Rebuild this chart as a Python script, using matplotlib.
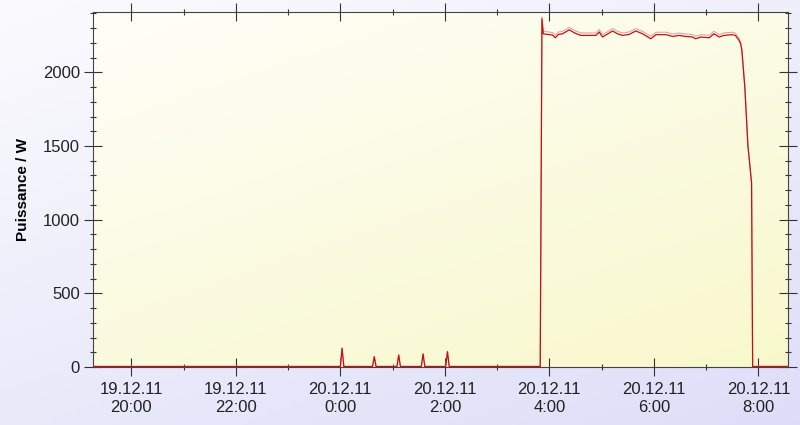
import numpy as np
import pandas as pd
import matplotlib
matplotlib.use("Agg")
import matplotlib.pyplot as plt
import matplotlib.dates as mdates
from matplotlib.ticker import MultipleLocator, FuncFormatter

plt.rcParams['font.family'] = ['Liberation Sans', 'DejaVu Sans']

# power readings (W), dark = main trace, light = upper trace
times = ["2011-12-19 19:16", "2011-12-19 23:58", "2011-12-20 00:00", "2011-12-20 00:02",
         "2011-12-20 00:04", "2011-12-20 00:37", "2011-12-20 00:39", "2011-12-20 00:41",
         "2011-12-20 01:05", "2011-12-20 01:07", "2011-12-20 01:09", "2011-12-20 01:33",
         "2011-12-20 01:35", "2011-12-20 01:37", "2011-12-20 02:01", "2011-12-20 02:03",
         "2011-12-20 02:05", "2011-12-20 03:49:30", "2011-12-20 03:51:30", "2011-12-20 03:53",
         "2011-12-20 04:03:40", "2011-12-20 04:06:45", "2011-12-20 04:10:30", "2011-12-20 04:15:10",
         "2011-12-20 04:22:50", "2011-12-20 04:28:30", "2011-12-20 04:36:15", "2011-12-20 04:53:30",
         "2011-12-20 04:57:15", "2011-12-20 05:01", "2011-12-20 05:08:40", "2011-12-20 05:12:30",
         "2011-12-20 05:18:15", "2011-12-20 05:24", "2011-12-20 05:31:40", "2011-12-20 05:39:20",
         "2011-12-20 05:47", "2011-12-20 05:56:30", "2011-12-20 06:02:25", "2011-12-20 06:13:50",
         "2011-12-20 06:21:35", "2011-12-20 06:29", "2011-12-20 06:36:35", "2011-12-20 06:44:25",
         "2011-12-20 06:48", "2011-12-20 06:54", "2011-12-20 07:03:35", "2011-12-20 07:09",
         "2011-12-20 07:15", "2011-12-20 07:20:25", "2011-12-20 07:30", "2011-12-20 07:33:35",
         "2011-12-20 07:37:50", "2011-12-20 07:39:35", "2011-12-20 07:41", "2011-12-20 07:44:25",
         "2011-12-20 07:48", "2011-12-20 07:52:10", "2011-12-20 07:53:25", "2011-12-20 08:34"]
power = [3, 3, 3, 127,
         3, 3, 70, 3,
         3, 81, 3, 3,
         88, 3, 3, 104,
         3, 3, 2364, 2262,
         2253, 2235, 2258, 2262,
         2289, 2269, 2251, 2251,
         2274, 2240, 2267, 2281,
         2262, 2251, 2258, 2281,
         2262, 2228, 2256, 2256,
         2244, 2251, 2244, 2240,
         2228, 2240, 2235, 2262,
         2240, 2251, 2256, 2251,
         2217, 2194, 2150, 1900,
         1500, 1250, 3, 3]
power_hi = [5, 5, 5, 130,
            5, 5, 73, 5,
            5, 84, 5, 5,
            91, 5, 5, 107,
            5, 5, 2378, 2280,
            2270, 2252, 2274, 2279,
            2305, 2286, 2268, 2267,
            2291, 2256, 2283, 2298,
            2279, 2267, 2275, 2297,
            2278, 2245, 2272, 2273,
            2261, 2267, 2261, 2256,
            2245, 2256, 2252, 2279,
            2256, 2268, 2272, 2267,
            2233, 2208, 2160, 1905,
            1503, 1252, 5, 5]

t = pd.to_datetime(times, format='mixed')

fig = plt.figure(figsize=(8, 4.25), dpi=100)

# figure background gradient (white-ish top-left to lavender bottom-right)
bg = fig.add_axes([0, 0, 1, 1], zorder=-10)
gx, gy = np.meshgrid(np.linspace(0, 1, 200), np.linspace(0, 1, 100))
g = np.clip(0.6 * gy + 0.4 * gx, 0, 1)
c0 = np.array([0.985, 0.985, 0.995])
c1 = np.array([0.87, 0.87, 0.975])
bg.imshow(c0 + g[..., None] * (c1 - c0), aspect='auto', extent=[0, 1, 0, 1])
bg.axis('off')

ax = fig.add_axes([0.11625, 0.1365, 0.86875, 0.8353])

# plot area gradient (pale top-left to light yellow bottom-right)
p0 = np.array([0.998, 0.998, 0.975])
p1 = np.array([0.975, 0.972, 0.80])
ax.imshow(p0 + g[..., None] * (p1 - p0), aspect='auto', extent=[0, 1, 0, 1],
          transform=ax.transAxes, zorder=0)

ax.plot(t, power_hi, color='#e8a4a4', lw=0.8, zorder=2)
ax.plot(t, power, color='#c41010', lw=0.9, zorder=3)

ax.set_xlim(pd.Timestamp("2011-12-19 19:16"), pd.Timestamp("2011-12-20 08:34"))
ax.set_ylim(0, 2410)

ax.xaxis.set_major_locator(mdates.HourLocator(byhour=range(0, 24, 2)))
ax.xaxis.set_minor_locator(mdates.HourLocator())


def fmt(x, pos):
    d = mdates.num2date(x)
    return f"{d:%d.%m.%y}\n{d.hour}:{d:%M}"


ax.xaxis.set_major_formatter(FuncFormatter(fmt))
ax.yaxis.set_major_locator(MultipleLocator(500))
ax.yaxis.set_minor_locator(MultipleLocator(100))

ax.tick_params(which='both', direction='inout', top=True, right=True,
               labelsize=12, labelcolor='#222222', width=0.8, color='#333333')
ax.tick_params(which='major', length=13)
ax.tick_params(which='minor', length=5)
ax.tick_params(axis='x', pad=4)
ax.tick_params(axis='y', pad=3)
for lbl in ax.get_xticklabels():
    lbl.set_linespacing(1.3)

for s in ax.spines.values():
    s.set_color('#444444')
    s.set_linewidth(0.8)

ax.set_ylabel('Puissance / W', fontweight='bold', fontsize=11, labelpad=9)

fig.savefig('out.png', dpi=100)
